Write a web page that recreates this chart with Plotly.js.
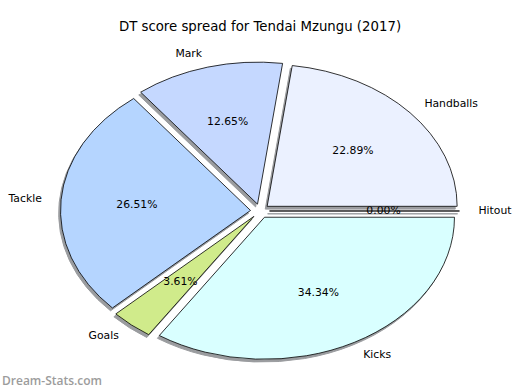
<!DOCTYPE html>
<html><head><meta charset="utf-8">
<script src="https://cdn.plot.ly/plotly-3.0.1.min.js"></script>
<style>html,body{margin:0;padding:0;background:#fff}#chart{width:520px;height:390px}</style>
</head><body><div id="chart"></div>
<script>
// DT score contributions (points) — order as drawn, counter-clockwise from 3 o'clock
const labels = ['Hitout', 'Handballs', 'Mark', 'Tackle', 'Goals', 'Kicks'];
const values = [0, 38, 21, 44, 6, 57];
const colors = ['#ffffff', '#ebf1ff', '#c5d8ff', '#b5d5ff', '#d0eb8b', '#d9ffff'];
const chartTitle = 'DT score spread for Tendai Mzungu (2017)';
const watermark = 'Dream-Stats.com';

const SX = 190 / 142;            // matplotlib axes draw the pie as an ellipse
const FONT = 'DejaVu Sans, sans-serif';
const pull = 0.05, labelDist = 1.1, pctDist = 0.6;
const dom = {x: [0, 1], y: [0.0767, 0.8413]};
const shDx = -3.8 / SX / 520, shDy = -2.8 / 390;
const SHADOW = 'rgb(154,156,159)';

const common = {
  type: 'pie', labels: labels, values: values, sort: false,
  direction: 'counterclockwise', rotation: 90, pull: pull,
  hoverinfo: 'skip', showlegend: false
};
const data = [
  Object.assign({}, common, {
    domain: {x: [dom.x[0] + shDx, dom.x[1] + shDx], y: [dom.y[0] + shDy, dom.y[1] + shDy]},
    marker: {colors: labels.map(() => SHADOW), line: {color: SHADOW, width: 1}},
    textinfo: 'none'
  }),
  Object.assign({}, common, {
    domain: dom,
    marker: {colors: colors, line: {color: '#000', width: 0.8}},
    texttemplate: '%{percent:.2%}', textposition: 'inside',
    insidetextorientation: 'horizontal',
    textfont: {family: FONT, size: 10.8, color: '#000'}
  }),
  Object.assign({}, common, {
    domain: dom,
    marker: {colors: labels.map(() => 'rgba(0,0,0,0)'), line: {width: 0}},
    textinfo: 'label', textposition: 'outside',
    outsidetextfont: {family: FONT, size: 10.8, color: '#000'}
  })
];
const layout = {
  width: 520, height: 390, margin: {l: 0, r: 0, t: 0, b: 0},
  paper_bgcolor: '#fff', plot_bgcolor: '#fff',
  uniformtext: {mode: 'show', minsize: 10.8},
  title: {text: chartTitle, font: {family: FONT, size: 13.3, color: '#000'},
          x: 0.5, xanchor: 'center', y: 1 - 26 / 390, yanchor: 'middle', yref: 'container'},
  annotations: [{text: watermark, xref: 'paper', yref: 'paper', x: 0, y: 1 - 380 / 390,
    xanchor: 'left', yanchor: 'middle', showarrow: false,
    font: {family: 'Open Sans, sans-serif', size: 12, weight: 600, color: '#9c9c9c'}}]
};
Plotly.newPlot('chart', data, layout, {staticPlot: true, displayModeBar: false}).then(gd => {
  const cd = gd.calcdata[1];
  const cx = cd[0].cx, cy = cd[0].cy;
  const traces = gd.querySelectorAll('.pielayer .trace');
  traces.forEach((tr, ti) => {
    tr.querySelectorAll('path.surface').forEach(p => {
      p.setAttribute('transform', `translate(${cx},0) scale(${SX},1) translate(${-cx},0)`);
      p.style.vectorEffect = 'non-scaling-stroke';
    });
    if (ti === 0) return;
    tr.querySelectorAll('path.textline').forEach(p => p.remove());
    tr.querySelectorAll('g.slice').forEach((sl, i) => {
      const t = sl.querySelector('text.slicetext');
      if (!t) return;
      const pt = gd.calcdata[ti][i];
      if (!pt || !pt.pxmid) return;
      const dist = ti === 2 ? labelDist : pctDist;
      const ax = cx + pt.pxmid[0] * (pull + dist) * SX;
      const ay = cy + pt.pxmid[1] * (pull + dist);
      const bb = t.getBBox();
      const bx = bb.x + bb.width / 2, by = bb.y + bb.height / 2;
      let tx = ax;
      if (ti === 2) tx = ax + (pt.pxmid[0] >= -1e-6 ? 1 : -1) * bb.width / 2;
      t.style.display = '';
      t.setAttribute('transform', `translate(${tx - bx},${ay - by})`);
    });
  });
});
</script>
</body></html>
